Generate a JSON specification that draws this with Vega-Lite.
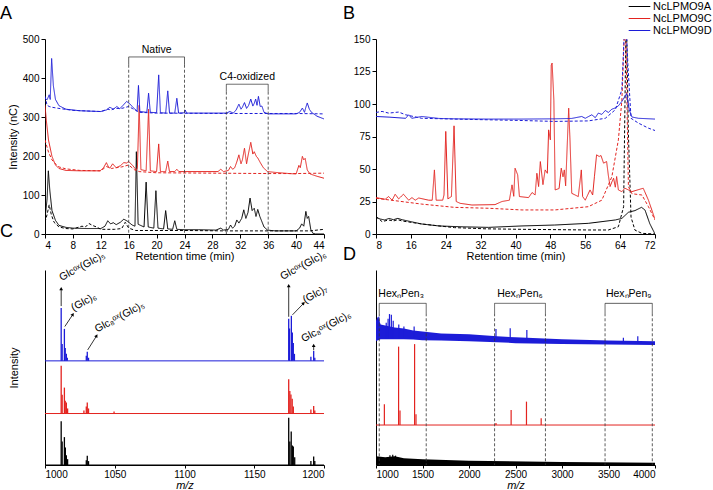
{
"$schema":"https://vega.github.io/schema/vega-lite/v6.json",
"background":"white",
"padding":{"left":0,"top":0,"right":0,"bottom":0},
"columns":2,
"bounds":"flush",
"spacing":{"row":36,"column":52},
"config":{
 "view":{"stroke":null},
 "font":"Liberation Sans",
 "axis":{"grid":false,"domainColor":"#000","tickColor":"#000","labelColor":"#000","titleColor":"#000","labelFontSize":10,"titleFontSize":11,"titleFontWeight":"normal","tickSize":4,"labelPadding":2,"titlePadding":4,"labelOverlap":false,"format":"d"},
 "title":{"fontSize":18,"fontWeight":"normal","anchor":"start","frame":"group","baseline":"alphabetic","color":"#000"},
 "text":{"font":"Liberation Sans","fontSize":10.5,"color":"#000"}
},
"datasets":{
"A":[
{"s":"NcLPMO9A","k":"s","t":4,"v":38},{"s":"NcLPMO9A","k":"s","t":4.3,"v":90},{"s":"NcLPMO9A","k":"s","t":4.48,"v":162},{"s":"NcLPMO9A","k":"s","t":4.7,"v":110},{"s":"NcLPMO9A","k":"s","t":5,"v":60},{"s":"NcLPMO9A","k":"s","t":5.5,"v":35},{"s":"NcLPMO9A","k":"s","t":6,"v":22},{"s":"NcLPMO9A","k":"s","t":7,"v":17},{"s":"NcLPMO9A","k":"s","t":8,"v":15},{"s":"NcLPMO9A","k":"s","t":10,"v":14},{"s":"NcLPMO9A","k":"s","t":12,"v":14},{"s":"NcLPMO9A","k":"s","t":12.6,"v":20},{"s":"NcLPMO9A","k":"s","t":13,"v":34},{"s":"NcLPMO9A","k":"s","t":13.4,"v":26},{"s":"NcLPMO9A","k":"s","t":13.8,"v":29},{"s":"NcLPMO9A","k":"s","t":14.2,"v":24},{"s":"NcLPMO9A","k":"s","t":14.8,"v":30},{"s":"NcLPMO9A","k":"s","t":15.3,"v":38},{"s":"NcLPMO9A","k":"s","t":15.8,"v":33},{"s":"NcLPMO9A","k":"s","t":16.5,"v":23},{"s":"NcLPMO9A","k":"s","t":16.9,"v":20},{"s":"NcLPMO9A","k":"s","t":17.1,"v":211},{"s":"NcLPMO9A","k":"s","t":17.35,"v":25},{"s":"NcLPMO9A","k":"s","t":18.2,"v":18},{"s":"NcLPMO9A","k":"s","t":18.5,"v":133},{"s":"NcLPMO9A","k":"s","t":18.8,"v":18},{"s":"NcLPMO9A","k":"s","t":19.6,"v":15},{"s":"NcLPMO9A","k":"s","t":19.9,"v":111},{"s":"NcLPMO9A","k":"s","t":20.2,"v":15},{"s":"NcLPMO9A","k":"s","t":21,"v":13},{"s":"NcLPMO9A","k":"s","t":21.3,"v":60},{"s":"NcLPMO9A","k":"s","t":21.6,"v":13},{"s":"NcLPMO9A","k":"s","t":22.3,"v":12},{"s":"NcLPMO9A","k":"s","t":22.6,"v":34},{"s":"NcLPMO9A","k":"s","t":22.9,"v":12},{"s":"NcLPMO9A","k":"s","t":24,"v":11},{"s":"NcLPMO9A","k":"s","t":26,"v":11},{"s":"NcLPMO9A","k":"s","t":28.5,"v":10},{"s":"NcLPMO9A","k":"s","t":29.2,"v":15},{"s":"NcLPMO9A","k":"s","t":29.6,"v":10},{"s":"NcLPMO9A","k":"s","t":30.3,"v":12},{"s":"NcLPMO9A","k":"s","t":30.6,"v":23},{"s":"NcLPMO9A","k":"s","t":30.9,"v":15},{"s":"NcLPMO9A","k":"s","t":31.2,"v":20},{"s":"NcLPMO9A","k":"s","t":31.5,"v":36},{"s":"NcLPMO9A","k":"s","t":31.8,"v":28},{"s":"NcLPMO9A","k":"s","t":32.2,"v":40},{"s":"NcLPMO9A","k":"s","t":32.5,"v":62},{"s":"NcLPMO9A","k":"s","t":32.8,"v":40},{"s":"NcLPMO9A","k":"s","t":33.1,"v":55},{"s":"NcLPMO9A","k":"s","t":33.4,"v":92},{"s":"NcLPMO9A","k":"s","t":33.7,"v":60},{"s":"NcLPMO9A","k":"s","t":34,"v":66},{"s":"NcLPMO9A","k":"s","t":34.25,"v":45},{"s":"NcLPMO9A","k":"s","t":34.5,"v":63},{"s":"NcLPMO9A","k":"s","t":34.8,"v":45},{"s":"NcLPMO9A","k":"s","t":35,"v":36},{"s":"NcLPMO9A","k":"s","t":35.4,"v":18},{"s":"NcLPMO9A","k":"s","t":35.9,"v":10},{"s":"NcLPMO9A","k":"s","t":37,"v":8},{"s":"NcLPMO9A","k":"s","t":40,"v":8},{"s":"NcLPMO9A","k":"s","t":40.5,"v":15},{"s":"NcLPMO9A","k":"s","t":40.8,"v":26},{"s":"NcLPMO9A","k":"s","t":41.1,"v":20},{"s":"NcLPMO9A","k":"s","t":41.4,"v":58},{"s":"NcLPMO9A","k":"s","t":41.6,"v":40},{"s":"NcLPMO9A","k":"s","t":41.8,"v":45},{"s":"NcLPMO9A","k":"s","t":42.1,"v":12},{"s":"NcLPMO9A","k":"s","t":42.4,"v":2},{"s":"NcLPMO9A","k":"s","t":42.8,"v":0},{"s":"NcLPMO9A","k":"s","t":44,"v":0},
{"s":"NcLPMO9A","k":"c","t":4,"v":30},{"s":"NcLPMO9A","k":"c","t":4.3,"v":50},{"s":"NcLPMO9A","k":"c","t":4.6,"v":75},{"s":"NcLPMO9A","k":"c","t":4.9,"v":50},{"s":"NcLPMO9A","k":"c","t":5.3,"v":30},{"s":"NcLPMO9A","k":"c","t":6,"v":18},{"s":"NcLPMO9A","k":"c","t":7,"v":14},{"s":"NcLPMO9A","k":"c","t":8,"v":13},{"s":"NcLPMO9A","k":"c","t":9.3,"v":20},{"s":"NcLPMO9A","k":"c","t":9.8,"v":18},{"s":"NcLPMO9A","k":"c","t":10.3,"v":27},{"s":"NcLPMO9A","k":"c","t":10.8,"v":22},{"s":"NcLPMO9A","k":"c","t":11.4,"v":18},{"s":"NcLPMO9A","k":"c","t":12,"v":12},{"s":"NcLPMO9A","k":"c","t":14,"v":12},{"s":"NcLPMO9A","k":"c","t":15,"v":14},{"s":"NcLPMO9A","k":"c","t":15.5,"v":30},{"s":"NcLPMO9A","k":"c","t":16,"v":15},{"s":"NcLPMO9A","k":"c","t":17,"v":9},{"s":"NcLPMO9A","k":"c","t":24,"v":9},{"s":"NcLPMO9A","k":"c","t":30,"v":8},{"s":"NcLPMO9A","k":"c","t":40,"v":8},{"s":"NcLPMO9A","k":"c","t":42,"v":8},{"s":"NcLPMO9A","k":"c","t":43,"v":10},{"s":"NcLPMO9A","k":"c","t":44,"v":12},
{"s":"NcLPMO9C","k":"s","t":4,"v":330},{"s":"NcLPMO9C","k":"s","t":4.2,"v":290},{"s":"NcLPMO9C","k":"s","t":4.5,"v":241},{"s":"NcLPMO9C","k":"s","t":5,"v":199},{"s":"NcLPMO9C","k":"s","t":5.5,"v":177},{"s":"NcLPMO9C","k":"s","t":6,"v":168},{"s":"NcLPMO9C","k":"s","t":7,"v":163},{"s":"NcLPMO9C","k":"s","t":9,"v":162},{"s":"NcLPMO9C","k":"s","t":11.9,"v":162},{"s":"NcLPMO9C","k":"s","t":12.4,"v":170},{"s":"NcLPMO9C","k":"s","t":12.8,"v":183},{"s":"NcLPMO9C","k":"s","t":13.1,"v":172},{"s":"NcLPMO9C","k":"s","t":13.3,"v":169},{"s":"NcLPMO9C","k":"s","t":13.7,"v":180},{"s":"NcLPMO9C","k":"s","t":14.2,"v":170},{"s":"NcLPMO9C","k":"s","t":14.8,"v":175},{"s":"NcLPMO9C","k":"s","t":15.3,"v":183},{"s":"NcLPMO9C","k":"s","t":15.7,"v":182},{"s":"NcLPMO9C","k":"s","t":16,"v":186},{"s":"NcLPMO9C","k":"s","t":16.6,"v":175},{"s":"NcLPMO9C","k":"s","t":17.1,"v":164},{"s":"NcLPMO9C","k":"s","t":17.25,"v":170},{"s":"NcLPMO9C","k":"s","t":17.5,"v":330},{"s":"NcLPMO9C","k":"s","t":17.75,"v":165},{"s":"NcLPMO9C","k":"s","t":18.5,"v":162},{"s":"NcLPMO9C","k":"s","t":18.85,"v":320},{"s":"NcLPMO9C","k":"s","t":19.1,"v":162},{"s":"NcLPMO9C","k":"s","t":20,"v":160},{"s":"NcLPMO9C","k":"s","t":20.3,"v":231},{"s":"NcLPMO9C","k":"s","t":20.55,"v":160},{"s":"NcLPMO9C","k":"s","t":21.3,"v":160},{"s":"NcLPMO9C","k":"s","t":21.6,"v":187},{"s":"NcLPMO9C","k":"s","t":21.85,"v":160},{"s":"NcLPMO9C","k":"s","t":22.6,"v":160},{"s":"NcLPMO9C","k":"s","t":22.9,"v":166},{"s":"NcLPMO9C","k":"s","t":23.2,"v":160},{"s":"NcLPMO9C","k":"s","t":28.8,"v":160},{"s":"NcLPMO9C","k":"s","t":29.2,"v":166},{"s":"NcLPMO9C","k":"s","t":29.6,"v":160},{"s":"NcLPMO9C","k":"s","t":30.3,"v":163},{"s":"NcLPMO9C","k":"s","t":30.6,"v":173},{"s":"NcLPMO9C","k":"s","t":30.9,"v":166},{"s":"NcLPMO9C","k":"s","t":31.2,"v":170},{"s":"NcLPMO9C","k":"s","t":31.5,"v":185},{"s":"NcLPMO9C","k":"s","t":31.8,"v":203},{"s":"NcLPMO9C","k":"s","t":32.1,"v":180},{"s":"NcLPMO9C","k":"s","t":32.3,"v":190},{"s":"NcLPMO9C","k":"s","t":32.6,"v":220},{"s":"NcLPMO9C","k":"s","t":32.9,"v":180},{"s":"NcLPMO9C","k":"s","t":33.1,"v":200},{"s":"NcLPMO9C","k":"s","t":33.5,"v":235},{"s":"NcLPMO9C","k":"s","t":33.8,"v":205},{"s":"NcLPMO9C","k":"s","t":34,"v":211},{"s":"NcLPMO9C","k":"s","t":34.3,"v":199},{"s":"NcLPMO9C","k":"s","t":34.5,"v":195},{"s":"NcLPMO9C","k":"s","t":34.9,"v":182},{"s":"NcLPMO9C","k":"s","t":35.3,"v":170},{"s":"NcLPMO9C","k":"s","t":35.9,"v":160},{"s":"NcLPMO9C","k":"s","t":37,"v":158},{"s":"NcLPMO9C","k":"s","t":39,"v":155},{"s":"NcLPMO9C","k":"s","t":40,"v":154},{"s":"NcLPMO9C","k":"s","t":40.4,"v":176},{"s":"NcLPMO9C","k":"s","t":40.6,"v":170},{"s":"NcLPMO9C","k":"s","t":40.9,"v":199},{"s":"NcLPMO9C","k":"s","t":41.1,"v":190},{"s":"NcLPMO9C","k":"s","t":41.3,"v":194},{"s":"NcLPMO9C","k":"s","t":41.6,"v":164},{"s":"NcLPMO9C","k":"s","t":42,"v":154},{"s":"NcLPMO9C","k":"s","t":43,"v":148},{"s":"NcLPMO9C","k":"s","t":44,"v":143},
{"s":"NcLPMO9C","k":"c","t":4,"v":241},{"s":"NcLPMO9C","k":"c","t":4.5,"v":210},{"s":"NcLPMO9C","k":"c","t":5,"v":190},{"s":"NcLPMO9C","k":"c","t":5.5,"v":180},{"s":"NcLPMO9C","k":"c","t":6,"v":172},{"s":"NcLPMO9C","k":"c","t":7,"v":167},{"s":"NcLPMO9C","k":"c","t":9,"v":163},{"s":"NcLPMO9C","k":"c","t":12,"v":162},{"s":"NcLPMO9C","k":"c","t":12.8,"v":173},{"s":"NcLPMO9C","k":"c","t":13.5,"v":168},{"s":"NcLPMO9C","k":"c","t":15,"v":172},{"s":"NcLPMO9C","k":"c","t":16,"v":177},{"s":"NcLPMO9C","k":"c","t":16.8,"v":165},{"s":"NcLPMO9C","k":"c","t":17.5,"v":160},{"s":"NcLPMO9C","k":"c","t":20,"v":157},{"s":"NcLPMO9C","k":"c","t":28,"v":156},{"s":"NcLPMO9C","k":"c","t":36,"v":155},{"s":"NcLPMO9C","k":"c","t":40,"v":155},{"s":"NcLPMO9C","k":"c","t":44,"v":156},
{"s":"NcLPMO9D","k":"s","t":4,"v":348},{"s":"NcLPMO9D","k":"s","t":4.3,"v":344},{"s":"NcLPMO9D","k":"s","t":4.6,"v":357},{"s":"NcLPMO9D","k":"s","t":4.75,"v":345},{"s":"NcLPMO9D","k":"s","t":4.95,"v":450},{"s":"NcLPMO9D","k":"s","t":5.2,"v":380},{"s":"NcLPMO9D","k":"s","t":5.5,"v":345},{"s":"NcLPMO9D","k":"s","t":6,"v":329},{"s":"NcLPMO9D","k":"s","t":7,"v":320},{"s":"NcLPMO9D","k":"s","t":9,"v":316},{"s":"NcLPMO9D","k":"s","t":12,"v":314},{"s":"NcLPMO9D","k":"s","t":12.8,"v":318},{"s":"NcLPMO9D","k":"s","t":13.3,"v":325},{"s":"NcLPMO9D","k":"s","t":13.8,"v":320},{"s":"NcLPMO9D","k":"s","t":14.3,"v":327},{"s":"NcLPMO9D","k":"s","t":14.7,"v":321},{"s":"NcLPMO9D","k":"s","t":15.2,"v":330},{"s":"NcLPMO9D","k":"s","t":15.7,"v":340},{"s":"NcLPMO9D","k":"s","t":16.2,"v":333},{"s":"NcLPMO9D","k":"s","t":16.5,"v":327},{"s":"NcLPMO9D","k":"s","t":17,"v":318},{"s":"NcLPMO9D","k":"s","t":17.2,"v":315},{"s":"NcLPMO9D","k":"s","t":17.4,"v":381},{"s":"NcLPMO9D","k":"s","t":17.6,"v":314},{"s":"NcLPMO9D","k":"s","t":18.6,"v":312},{"s":"NcLPMO9D","k":"s","t":18.85,"v":361},{"s":"NcLPMO9D","k":"s","t":19.1,"v":312},{"s":"NcLPMO9D","k":"s","t":20,"v":311},{"s":"NcLPMO9D","k":"s","t":20.3,"v":408},{"s":"NcLPMO9D","k":"s","t":20.55,"v":311},{"s":"NcLPMO9D","k":"s","t":21.3,"v":310},{"s":"NcLPMO9D","k":"s","t":21.6,"v":367},{"s":"NcLPMO9D","k":"s","t":21.85,"v":310},{"s":"NcLPMO9D","k":"s","t":22.6,"v":310},{"s":"NcLPMO9D","k":"s","t":22.9,"v":348},{"s":"NcLPMO9D","k":"s","t":23.15,"v":310},{"s":"NcLPMO9D","k":"s","t":24,"v":311},{"s":"NcLPMO9D","k":"s","t":24.1,"v":318},{"s":"NcLPMO9D","k":"s","t":24.3,"v":310},{"s":"NcLPMO9D","k":"s","t":30,"v":310},{"s":"NcLPMO9D","k":"s","t":30.5,"v":314},{"s":"NcLPMO9D","k":"s","t":31,"v":310},{"s":"NcLPMO9D","k":"s","t":31.4,"v":318},{"s":"NcLPMO9D","k":"s","t":31.8,"v":333},{"s":"NcLPMO9D","k":"s","t":32.1,"v":320},{"s":"NcLPMO9D","k":"s","t":32.3,"v":325},{"s":"NcLPMO9D","k":"s","t":32.6,"v":337},{"s":"NcLPMO9D","k":"s","t":32.9,"v":322},{"s":"NcLPMO9D","k":"s","t":33.2,"v":330},{"s":"NcLPMO9D","k":"s","t":33.5,"v":346},{"s":"NcLPMO9D","k":"s","t":33.8,"v":328},{"s":"NcLPMO9D","k":"s","t":34,"v":335},{"s":"NcLPMO9D","k":"s","t":34.2,"v":346},{"s":"NcLPMO9D","k":"s","t":34.4,"v":330},{"s":"NcLPMO9D","k":"s","t":34.6,"v":353},{"s":"NcLPMO9D","k":"s","t":34.85,"v":327},{"s":"NcLPMO9D","k":"s","t":35.1,"v":328},{"s":"NcLPMO9D","k":"s","t":35.4,"v":312},{"s":"NcLPMO9D","k":"s","t":36,"v":308},{"s":"NcLPMO9D","k":"s","t":40,"v":308},{"s":"NcLPMO9D","k":"s","t":40.5,"v":312},{"s":"NcLPMO9D","k":"s","t":40.9,"v":323},{"s":"NcLPMO9D","k":"s","t":41.2,"v":312},{"s":"NcLPMO9D","k":"s","t":41.4,"v":325},{"s":"NcLPMO9D","k":"s","t":41.6,"v":336},{"s":"NcLPMO9D","k":"s","t":41.9,"v":320},{"s":"NcLPMO9D","k":"s","t":42.2,"v":312},{"s":"NcLPMO9D","k":"s","t":43,"v":302},{"s":"NcLPMO9D","k":"s","t":44,"v":295},
{"s":"NcLPMO9D","k":"c","t":4,"v":353},{"s":"NcLPMO9D","k":"c","t":4.3,"v":330},{"s":"NcLPMO9D","k":"c","t":4.6,"v":327},{"s":"NcLPMO9D","k":"c","t":5,"v":325},{"s":"NcLPMO9D","k":"c","t":6,"v":322},{"s":"NcLPMO9D","k":"c","t":8,"v":317},{"s":"NcLPMO9D","k":"c","t":12,"v":314},{"s":"NcLPMO9D","k":"c","t":13,"v":320},{"s":"NcLPMO9D","k":"c","t":13.5,"v":318},{"s":"NcLPMO9D","k":"c","t":14,"v":322},{"s":"NcLPMO9D","k":"c","t":15,"v":322},{"s":"NcLPMO9D","k":"c","t":16,"v":327},{"s":"NcLPMO9D","k":"c","t":16.5,"v":322},{"s":"NcLPMO9D","k":"c","t":17.5,"v":312},{"s":"NcLPMO9D","k":"c","t":20,"v":310},{"s":"NcLPMO9D","k":"c","t":30,"v":309},{"s":"NcLPMO9D","k":"c","t":40,"v":309},{"s":"NcLPMO9D","k":"c","t":44,"v":308}
],
"Abr":[
{"x":16,"x2":24,"y":454,"y2":454,"k":"s"},{"x":16,"x2":16,"y":454,"y2":434,"k":"s"},{"x":24,"x2":24,"y":454,"y2":434,"k":"s"},{"x":16,"x2":16,"y":434,"y2":0,"k":"c"},{"x":24,"x2":24,"y":434,"y2":0,"k":"c"},
{"x":30,"x2":36,"y":384,"y2":384,"k":"s"},{"x":30,"x2":30,"y":384,"y2":365,"k":"s"},{"x":36,"x2":36,"y":384,"y2":365,"k":"s"},{"x":30,"x2":30,"y":365,"y2":0,"k":"c"},{"x":36,"x2":36,"y":365,"y2":0,"k":"c"}
],
"Atx":[{"x":20,"y":459,"label":"Native"},{"x":33,"y":390,"label":"C4-oxidized"}],
"B":[
{"s":"NcLPMO9A","k":"s","t":8,"v":12.8},{"s":"NcLPMO9A","k":"s","t":9,"v":11.5},{"s":"NcLPMO9A","k":"s","t":10,"v":10.8},{"s":"NcLPMO9A","k":"s","t":11,"v":12},{"s":"NcLPMO9A","k":"s","t":12,"v":11},{"s":"NcLPMO9A","k":"s","t":13,"v":12},{"s":"NcLPMO9A","k":"s","t":14,"v":11},{"s":"NcLPMO9A","k":"s","t":16,"v":9.5},{"s":"NcLPMO9A","k":"s","t":18.5,"v":7.7},{"s":"NcLPMO9A","k":"s","t":22.4,"v":6.2},{"s":"NcLPMO9A","k":"s","t":28,"v":5.5},{"s":"NcLPMO9A","k":"s","t":33.8,"v":5.1},{"s":"NcLPMO9A","k":"s","t":41.5,"v":6.2},{"s":"NcLPMO9A","k":"s","t":49,"v":6.9},{"s":"NcLPMO9A","k":"s","t":56.7,"v":8.2},{"s":"NcLPMO9A","k":"s","t":62.9,"v":10.8},{"s":"NcLPMO9A","k":"s","t":64.4,"v":12},{"s":"NcLPMO9A","k":"s","t":65.9,"v":16.7},{"s":"NcLPMO9A","k":"s","t":67.4,"v":18},{"s":"NcLPMO9A","k":"s","t":68.9,"v":20.5},{"s":"NcLPMO9A","k":"s","t":69.7,"v":18.5},{"s":"NcLPMO9A","k":"s","t":70.8,"v":8},{"s":"NcLPMO9A","k":"s","t":72,"v":0},
{"s":"NcLPMO9A","k":"c","t":8,"v":13.4},{"s":"NcLPMO9A","k":"c","t":9.4,"v":9.5},{"s":"NcLPMO9A","k":"c","t":10.9,"v":10.8},{"s":"NcLPMO9A","k":"c","t":12,"v":10},{"s":"NcLPMO9A","k":"c","t":13,"v":11},{"s":"NcLPMO9A","k":"c","t":14,"v":10},{"s":"NcLPMO9A","k":"c","t":18.5,"v":7.7},{"s":"NcLPMO9A","k":"c","t":26,"v":4.9},{"s":"NcLPMO9A","k":"c","t":33,"v":4},{"s":"NcLPMO9A","k":"c","t":41.5,"v":3.6},{"s":"NcLPMO9A","k":"c","t":56.7,"v":3.1},{"s":"NcLPMO9A","k":"c","t":61.3,"v":3.1},{"s":"NcLPMO9A","k":"c","t":63.6,"v":5.6},{"s":"NcLPMO9A","k":"c","t":64.8,"v":21},{"s":"NcLPMO9A","k":"c","t":65.4,"v":175},{"s":"NcLPMO9A","k":"c","t":65.9,"v":77},{"s":"NcLPMO9A","k":"c","t":66.5,"v":13},{"s":"NcLPMO9A","k":"c","t":67.4,"v":3},{"s":"NcLPMO9A","k":"c","t":69,"v":0.5},{"s":"NcLPMO9A","k":"c","t":72,"v":0},
{"s":"NcLPMO9C","k":"s","t":8,"v":28},{"s":"NcLPMO9C","k":"s","t":10.1,"v":26.7},{"s":"NcLPMO9C","k":"s","t":10.9,"v":28.8},{"s":"NcLPMO9C","k":"s","t":11.7,"v":26},{"s":"NcLPMO9C","k":"s","t":12.4,"v":30.6},{"s":"NcLPMO9C","k":"s","t":13.2,"v":27},{"s":"NcLPMO9C","k":"s","t":14.3,"v":30.6},{"s":"NcLPMO9C","k":"s","t":15.5,"v":26},{"s":"NcLPMO9C","k":"s","t":16.25,"v":28},{"s":"NcLPMO9C","k":"s","t":17,"v":26},{"s":"NcLPMO9C","k":"s","t":17.8,"v":27.7},{"s":"NcLPMO9C","k":"s","t":20.1,"v":26},{"s":"NcLPMO9C","k":"s","t":20.9,"v":26},{"s":"NcLPMO9C","k":"s","t":21.4,"v":49.3},{"s":"NcLPMO9C","k":"s","t":21.8,"v":26},{"s":"NcLPMO9C","k":"s","t":23.3,"v":26},{"s":"NcLPMO9C","k":"s","t":23.6,"v":30},{"s":"NcLPMO9C","k":"s","t":24,"v":78.9},{"s":"NcLPMO9C","k":"s","t":24.5,"v":27},{"s":"NcLPMO9C","k":"s","t":25.3,"v":28.8},{"s":"NcLPMO9C","k":"s","t":25.9,"v":83.2},{"s":"NcLPMO9C","k":"s","t":26.4,"v":25},{"s":"NcLPMO9C","k":"s","t":27.3,"v":23.6},{"s":"NcLPMO9C","k":"s","t":30,"v":22.3},{"s":"NcLPMO9C","k":"s","t":35.3,"v":22.6},{"s":"NcLPMO9C","k":"s","t":36.9,"v":25},{"s":"NcLPMO9C","k":"s","t":38.6,"v":26},{"s":"NcLPMO9C","k":"s","t":39.2,"v":37.8},{"s":"NcLPMO9C","k":"s","t":39.6,"v":29},{"s":"NcLPMO9C","k":"s","t":39.9,"v":50.6},{"s":"NcLPMO9C","k":"s","t":40.5,"v":45.5},{"s":"NcLPMO9C","k":"s","t":40.9,"v":28.8},{"s":"NcLPMO9C","k":"s","t":43,"v":28},{"s":"NcLPMO9C","k":"s","t":43.8,"v":31.9},{"s":"NcLPMO9C","k":"s","t":44.5,"v":30},{"s":"NcLPMO9C","k":"s","t":44.9,"v":46.7},{"s":"NcLPMO9C","k":"s","t":45.3,"v":36.5},{"s":"NcLPMO9C","k":"s","t":45.7,"v":55.7},{"s":"NcLPMO9C","k":"s","t":46.3,"v":38},{"s":"NcLPMO9C","k":"s","t":46.8,"v":49.3},{"s":"NcLPMO9C","k":"s","t":47.3,"v":46.7},{"s":"NcLPMO9C","k":"s","t":47.6,"v":80.1},{"s":"NcLPMO9C","k":"s","t":48,"v":72.4},{"s":"NcLPMO9C","k":"s","t":48.2,"v":130},{"s":"NcLPMO9C","k":"s","t":48.4,"v":131.5},{"s":"NcLPMO9C","k":"s","t":48.8,"v":103},{"s":"NcLPMO9C","k":"s","t":49.1,"v":33.9},{"s":"NcLPMO9C","k":"s","t":50,"v":35},{"s":"NcLPMO9C","k":"s","t":50.5,"v":50.6},{"s":"NcLPMO9C","k":"s","t":50.9,"v":44},{"s":"NcLPMO9C","k":"s","t":51.2,"v":49.3},{"s":"NcLPMO9C","k":"s","t":51.5,"v":37},{"s":"NcLPMO9C","k":"s","t":52.2,"v":96.8},{"s":"NcLPMO9C","k":"s","t":52.5,"v":72.4},{"s":"NcLPMO9C","k":"s","t":52.9,"v":31.3},{"s":"NcLPMO9C","k":"s","t":54.4,"v":28.8},{"s":"NcLPMO9C","k":"s","t":55.1,"v":49.3},{"s":"NcLPMO9C","k":"s","t":55.4,"v":28.8},{"s":"NcLPMO9C","k":"s","t":56,"v":26},{"s":"NcLPMO9C","k":"s","t":57.1,"v":33.9},{"s":"NcLPMO9C","k":"s","t":57.7,"v":30},{"s":"NcLPMO9C","k":"s","t":58.1,"v":44},{"s":"NcLPMO9C","k":"s","t":58.6,"v":60.9},{"s":"NcLPMO9C","k":"s","t":59.2,"v":59.6},{"s":"NcLPMO9C","k":"s","t":59.6,"v":60.4},{"s":"NcLPMO9C","k":"s","t":60.2,"v":54.5},{"s":"NcLPMO9C","k":"s","t":60.9,"v":55.7},{"s":"NcLPMO9C","k":"s","t":61.3,"v":45},{"s":"NcLPMO9C","k":"s","t":61.7,"v":36.5},{"s":"NcLPMO9C","k":"s","t":62.1,"v":40},{"s":"NcLPMO9C","k":"s","t":62.5,"v":42.9},{"s":"NcLPMO9C","k":"s","t":62.9,"v":36},{"s":"NcLPMO9C","k":"s","t":63.2,"v":44.2},{"s":"NcLPMO9C","k":"s","t":63.6,"v":33.9},{"s":"NcLPMO9C","k":"s","t":64.4,"v":32.6},{"s":"NcLPMO9C","k":"s","t":65.1,"v":35.2},{"s":"NcLPMO9C","k":"s","t":66.7,"v":32.6},{"s":"NcLPMO9C","k":"s","t":69.3,"v":35.2},{"s":"NcLPMO9C","k":"s","t":70.5,"v":26},{"s":"NcLPMO9C","k":"s","t":72,"v":11.3},
{"s":"NcLPMO9C","k":"c","t":8,"v":27.5},{"s":"NcLPMO9C","k":"c","t":18.5,"v":23},{"s":"NcLPMO9C","k":"c","t":26,"v":20.5},{"s":"NcLPMO9C","k":"c","t":33.8,"v":19.8},{"s":"NcLPMO9C","k":"c","t":41.5,"v":18.5},{"s":"NcLPMO9C","k":"c","t":49,"v":18.5},{"s":"NcLPMO9C","k":"c","t":56.7,"v":21},{"s":"NcLPMO9C","k":"c","t":59.8,"v":26},{"s":"NcLPMO9C","k":"c","t":62.1,"v":44},{"s":"NcLPMO9C","k":"c","t":63.6,"v":72.4},{"s":"NcLPMO9C","k":"c","t":64.4,"v":103},{"s":"NcLPMO9C","k":"c","t":65.2,"v":175},{"s":"NcLPMO9C","k":"c","t":65.9,"v":36.5},{"s":"NcLPMO9C","k":"c","t":66.7,"v":31},{"s":"NcLPMO9C","k":"c","t":69,"v":30},{"s":"NcLPMO9C","k":"c","t":70.5,"v":21},{"s":"NcLPMO9C","k":"c","t":72,"v":10.8},
{"s":"NcLPMO9D","k":"s","t":8,"v":90.4},{"s":"NcLPMO9D","k":"s","t":11,"v":89.9},{"s":"NcLPMO9D","k":"s","t":14.8,"v":89},{"s":"NcLPMO9D","k":"s","t":15.5,"v":91.7},{"s":"NcLPMO9D","k":"s","t":16.2,"v":89},{"s":"NcLPMO9D","k":"s","t":18.5,"v":90.4},{"s":"NcLPMO9D","k":"s","t":22.4,"v":88.9},{"s":"NcLPMO9D","k":"s","t":26.2,"v":88.6},{"s":"NcLPMO9D","k":"s","t":33.8,"v":88.4},{"s":"NcLPMO9D","k":"s","t":41.5,"v":88.4},{"s":"NcLPMO9D","k":"s","t":49,"v":88.6},{"s":"NcLPMO9D","k":"s","t":52.9,"v":88.9},{"s":"NcLPMO9D","k":"s","t":55.2,"v":90.4},{"s":"NcLPMO9D","k":"s","t":56,"v":89},{"s":"NcLPMO9D","k":"s","t":57.5,"v":91.7},{"s":"NcLPMO9D","k":"s","t":58.3,"v":89.5},{"s":"NcLPMO9D","k":"s","t":59,"v":93},{"s":"NcLPMO9D","k":"s","t":59.8,"v":92},{"s":"NcLPMO9D","k":"s","t":60.6,"v":95},{"s":"NcLPMO9D","k":"s","t":61.3,"v":93.5},{"s":"NcLPMO9D","k":"s","t":62.1,"v":96},{"s":"NcLPMO9D","k":"s","t":62.9,"v":97},{"s":"NcLPMO9D","k":"s","t":63.6,"v":98.6},{"s":"NcLPMO9D","k":"s","t":64.4,"v":102},{"s":"NcLPMO9D","k":"s","t":65.5,"v":108},{"s":"NcLPMO9D","k":"s","t":66.1,"v":95.6},{"s":"NcLPMO9D","k":"s","t":66.7,"v":90},{"s":"NcLPMO9D","k":"s","t":68.2,"v":89},{"s":"NcLPMO9D","k":"s","t":72,"v":88.4},
{"s":"NcLPMO9D","k":"c","t":8,"v":93.5},{"s":"NcLPMO9D","k":"c","t":9.4,"v":94.3},{"s":"NcLPMO9D","k":"c","t":10.9,"v":93},{"s":"NcLPMO9D","k":"c","t":13.2,"v":93.8},{"s":"NcLPMO9D","k":"c","t":14.8,"v":91.7},{"s":"NcLPMO9D","k":"c","t":18.5,"v":89},{"s":"NcLPMO9D","k":"c","t":26,"v":88.4},{"s":"NcLPMO9D","k":"c","t":41.5,"v":87.3},{"s":"NcLPMO9D","k":"c","t":49,"v":86.6},{"s":"NcLPMO9D","k":"c","t":56.7,"v":87},{"s":"NcLPMO9D","k":"c","t":60.6,"v":89},{"s":"NcLPMO9D","k":"c","t":62.9,"v":95.6},{"s":"NcLPMO9D","k":"c","t":64.4,"v":111},{"s":"NcLPMO9D","k":"c","t":65.2,"v":175},{"s":"NcLPMO9D","k":"c","t":65.8,"v":129},{"s":"NcLPMO9D","k":"c","t":66.5,"v":89},{"s":"NcLPMO9D","k":"c","t":68.2,"v":85.3},{"s":"NcLPMO9D","k":"c","t":70.5,"v":81.4},{"s":"NcLPMO9D","k":"c","t":72,"v":79.6}
],
"Cb":[{"s":"NcLPMO9A","y":0},{"s":"NcLPMO9C","y":26.4},{"s":"NcLPMO9D","y":53.4}],
"C":[
{"s":"NcLPMO9D","m":1011.6,"b":53.4,"h":80.5},{"s":"NcLPMO9D","m":1012.3,"b":53.4,"h":62},{"s":"NcLPMO9D","m":1013.9,"b":53.4,"h":69.8},{"s":"NcLPMO9D","m":1014.5,"b":53.4,"h":60},{"s":"NcLPMO9D","m":1015.3,"b":53.4,"h":57},{"s":"NcLPMO9D","m":1016,"b":53.4,"h":55},{"s":"NcLPMO9D","m":1029.6,"b":53.4,"h":56},{"s":"NcLPMO9D","m":1030.3,"b":53.4,"h":58.1},{"s":"NcLPMO9D","m":1031.2,"b":53.4,"h":55},{"s":"NcLPMO9D","m":1174.7,"b":53.4,"h":75},{"s":"NcLPMO9D","m":1175.3,"b":53.4,"h":70},{"s":"NcLPMO9D","m":1176.6,"b":53.4,"h":76.5},{"s":"NcLPMO9D","m":1177.3,"b":53.4,"h":68},{"s":"NcLPMO9D","m":1178,"b":53.4,"h":62.6},{"s":"NcLPMO9D","m":1178.8,"b":53.4,"h":57},{"s":"NcLPMO9D","m":1190.6,"b":53.4,"h":55.5},{"s":"NcLPMO9D","m":1192.6,"b":53.4,"h":58.5},{"s":"NcLPMO9D","m":1193.4,"b":53.4,"h":55},
{"s":"NcLPMO9C","m":1011.6,"b":26.4,"h":50.9},{"s":"NcLPMO9C","m":1012.3,"b":26.4,"h":36},{"s":"NcLPMO9C","m":1013.9,"b":26.4,"h":39.7},{"s":"NcLPMO9C","m":1014.5,"b":26.4,"h":33},{"s":"NcLPMO9C","m":1015.3,"b":26.4,"h":32},{"s":"NcLPMO9C","m":1016.2,"b":26.4,"h":29},{"s":"NcLPMO9C","m":1027.9,"b":26.4,"h":28},{"s":"NcLPMO9C","m":1029.6,"b":26.4,"h":30},{"s":"NcLPMO9C","m":1030.3,"b":26.4,"h":32},{"s":"NcLPMO9C","m":1031.2,"b":26.4,"h":29},{"s":"NcLPMO9C","m":1049.5,"b":26.4,"h":27.5},{"s":"NcLPMO9C","m":1174.7,"b":26.4,"h":44},{"s":"NcLPMO9C","m":1175.5,"b":26.4,"h":38},{"s":"NcLPMO9C","m":1176.3,"b":26.4,"h":36.2},{"s":"NcLPMO9C","m":1177.2,"b":26.4,"h":34},{"s":"NcLPMO9C","m":1178,"b":26.4,"h":30},{"s":"NcLPMO9C","m":1190.6,"b":26.4,"h":28.5},{"s":"NcLPMO9C","m":1192.6,"b":26.4,"h":30.2},{"s":"NcLPMO9C","m":1193.4,"b":26.4,"h":28},
{"s":"NcLPMO9A","m":1011.6,"b":0,"h":22.4},{"s":"NcLPMO9A","m":1012.3,"b":0,"h":12},{"s":"NcLPMO9A","m":1013.9,"b":0,"h":14.3},{"s":"NcLPMO9A","m":1014.6,"b":0,"h":9},{"s":"NcLPMO9A","m":1015.3,"b":0,"h":5},{"s":"NcLPMO9A","m":1016.2,"b":0,"h":3},{"s":"NcLPMO9A","m":1029.6,"b":0,"h":2.5},{"s":"NcLPMO9A","m":1030.3,"b":0,"h":4.7},{"s":"NcLPMO9A","m":1031.2,"b":0,"h":2},{"s":"NcLPMO9A","m":1174.7,"b":0,"h":24.2},{"s":"NcLPMO9A","m":1175.5,"b":0,"h":12},{"s":"NcLPMO9A","m":1176.5,"b":0,"h":17.2},{"s":"NcLPMO9A","m":1177.3,"b":0,"h":10},{"s":"NcLPMO9A","m":1178,"b":0,"h":9.5},{"s":"NcLPMO9A","m":1179,"b":0,"h":4},{"s":"NcLPMO9A","m":1190.6,"b":0,"h":2},{"s":"NcLPMO9A","m":1192.6,"b":0,"h":4.3},{"s":"NcLPMO9A","m":1193.4,"b":0,"h":2}
],
"Car":[
{"x":1011.6,"y":81.5,"x2":1011.6,"y2":90},{"x":1014.2,"y":71,"x2":1019.6,"y2":76.8},{"x":1030.6,"y":59,"x2":1036.6,"y2":65.8},{"x":1174.7,"y":76,"x2":1174.7,"y2":91.5},{"x":1177.4,"y":77,"x2":1185,"y2":82.6},{"x":1192.6,"y":58.8,"x2":1192.6,"y2":60.5}
],
"Cah":[
{"x":1011.6,"y":90.5,"a":0},{"x":1020,"y":77.3,"a":32},{"x":1037,"y":66.3,"a":31},{"x":1174.7,"y":92,"a":0},{"x":1185.4,"y":83,"a":45},{"x":1192.6,"y":61.3,"a":0}
],
"Ctx":[
{"x":1012.5,"y":93.5,"label":"Glcᵒˣ(Glc)₅"},{"x":1021,"y":78,"label":"(Glc)₆"},{"x":1038,"y":67,"label":"Glc₈ᵒˣ(Glc)₅"},{"x":1171,"y":94,"label":"Glcᵒˣ(Glc)₆"},{"x":1187,"y":82,"label":"(Glc)₇"},{"x":1186,"y":62,"label":"Glc₈ᵒˣ(Glc)₆"}
],
"Dband":[
{"s":"NcLPMO9D","x":1000,"lo":63.5,"hi":74},{"s":"NcLPMO9D","x":1020,"lo":64,"hi":76},{"s":"NcLPMO9D","x":1050,"lo":64.5,"hi":72},{"s":"NcLPMO9D","x":1100,"lo":64.5,"hi":71.5},{"s":"NcLPMO9D","x":1200,"lo":64.5,"hi":70.5},{"s":"NcLPMO9D","x":1300,"lo":64.5,"hi":70},{"s":"NcLPMO9D","x":1400,"lo":64.3,"hi":69},{"s":"NcLPMO9D","x":1500,"lo":64,"hi":68.5},{"s":"NcLPMO9D","x":1700,"lo":63.8,"hi":67.5},{"s":"NcLPMO9D","x":2000,"lo":63.5,"hi":67},{"s":"NcLPMO9D","x":2300,"lo":63,"hi":66},{"s":"NcLPMO9D","x":2500,"lo":62.5,"hi":65.5},{"s":"NcLPMO9D","x":3000,"lo":62,"hi":64.5},{"s":"NcLPMO9D","x":3500,"lo":61.8,"hi":63.8},{"s":"NcLPMO9D","x":4000,"lo":61.5,"hi":63.5},
{"s":"NcLPMO9A","x":1000,"lo":0,"hi":4.5},{"s":"NcLPMO9A","x":1100,"lo":0,"hi":4},{"s":"NcLPMO9A","x":1200,"lo":0,"hi":4.5},{"s":"NcLPMO9A","x":1300,"lo":0,"hi":3.5},{"s":"NcLPMO9A","x":1500,"lo":0,"hi":3},{"s":"NcLPMO9A","x":2000,"lo":0,"hi":2.2},{"s":"NcLPMO9A","x":3000,"lo":0,"hi":1.6},{"s":"NcLPMO9A","x":4000,"lo":0,"hi":1.2}
],
"Dbase":[{"s":"NcLPMO9C","y":20.5}],
"Dpk":[
{"s":"NcLPMO9D","m":1030,"b":65,"h":76},{"s":"NcLPMO9D","m":1110,"b":65,"h":73},{"s":"NcLPMO9D","m":1130,"b":65,"h":75},{"s":"NcLPMO9D","m":1145,"b":65,"h":77.4},{"s":"NcLPMO9D","m":1165,"b":65,"h":77},{"s":"NcLPMO9D","m":1185,"b":65,"h":74},{"s":"NcLPMO9D","m":1245,"b":65,"h":72},{"s":"NcLPMO9D","m":1300,"b":65,"h":71},{"s":"NcLPMO9D","m":1410,"b":65,"h":71},{"s":"NcLPMO9D","m":2290,"b":64,"h":69.8},{"s":"NcLPMO9D","m":2443,"b":64,"h":70.1},{"s":"NcLPMO9D","m":2622,"b":63.5,"h":69.2},{"s":"NcLPMO9D","m":3660,"b":62,"h":65.3},{"s":"NcLPMO9D","m":3815,"b":62,"h":66},
{"s":"NcLPMO9C","m":1090,"b":20.5,"h":31.1},{"s":"NcLPMO9C","m":1243,"b":20.5,"h":60.7},{"s":"NcLPMO9C","m":1258,"b":20.5,"h":28},{"s":"NcLPMO9C","m":1415,"b":20.5,"h":62},{"s":"NcLPMO9C","m":1430,"b":20.5,"h":26},{"s":"NcLPMO9C","m":2290,"b":20.5,"h":21.5},{"s":"NcLPMO9C","m":2453,"b":20.5,"h":28.2},{"s":"NcLPMO9C","m":2618,"b":20.5,"h":32.5},{"s":"NcLPMO9C","m":2776,"b":20.5,"h":24},
{"s":"NcLPMO9A","m":1150,"b":0,"h":5},{"s":"NcLPMO9A","m":1180,"b":0,"h":5.2},{"s":"NcLPMO9A","m":1210,"b":0,"h":4.8}
],
"Dbr":[
{"x":1035,"x2":1540,"y":82.9,"y2":82.9,"k":"s"},{"x":1035,"x2":1035,"y":82.9,"y2":77.8,"k":"s"},{"x":1540,"x2":1540,"y":82.9,"y2":77.8,"k":"s"},{"x":1035,"x2":1035,"y":77.8,"y2":0,"k":"c"},{"x":1540,"x2":1540,"y":77.8,"y2":0,"k":"c"},
{"x":2275,"x2":2822,"y":82.9,"y2":82.9,"k":"s"},{"x":2275,"x2":2275,"y":82.9,"y2":77.8,"k":"s"},{"x":2822,"x2":2822,"y":82.9,"y2":77.8,"k":"s"},{"x":2275,"x2":2275,"y":77.8,"y2":0,"k":"c"},{"x":2822,"x2":2822,"y":77.8,"y2":0,"k":"c"},
{"x":3463,"x2":3971,"y":82.9,"y2":82.9,"k":"s"},{"x":3463,"x2":3463,"y":82.9,"y2":77.8,"k":"s"},{"x":3971,"x2":3971,"y":82.9,"y2":77.8,"k":"s"},{"x":3463,"x2":3463,"y":77.8,"y2":0,"k":"c"},{"x":3971,"x2":3971,"y":77.8,"y2":0,"k":"c"}
],
"Dtx":[{"x":1270,"y":85,"label":"HexₙPen₃"},{"x":2548,"y":85,"label":"HexₙPen₆"},{"x":3717,"y":85,"label":"HexₙPen₉"}]
},
"concat":[
{
 "width":279,"height":195,
 "title":{"text":"A","dx":-45,"offset":11},
 "layer":[
  {"data":{"name":"A"},"mark":{"type":"line","strokeWidth":1,"clip":true},
   "encoding":{
    "x":{"field":"t","type":"quantitative","scale":{"domain":[4,44],"nice":false,"zero":false},"axis":{"title":"Retention time (min)","values":[4,8,12,16,20,24,28,32,36,40,44],"labelOverlap":false,"titlePadding":0}},
    "y":{"field":"v","type":"quantitative","scale":{"domain":[0,500],"nice":false},"axis":{"title":"Intensity (nC)","values":[0,100,200,300,400,500],"labelOverlap":false}},
    "color":{"field":"s","type":"nominal","scale":{"domain":["NcLPMO9A","NcLPMO9C","NcLPMO9D"],"range":["#000000","#e3231f","#1c1cd8"]},"legend":{"title":null,"orient":"none","legendX":588,"legendY":-39,"symbolType":"M-1.8,0H1.8","symbolSize":144,"symbolStrokeWidth":1,"labelFontSize":11,"labelOffset":7,"rowPadding":0,"labelFont":"Liberation Sans"}},
    "strokeDash":{"field":"k","type":"nominal","scale":{"domain":["s","c"],"range":[[1,0],[3,2]]},"legend":null}
   }},
  {"data":{"name":"Abr"},"mark":{"type":"rule","color":"#333","strokeWidth":0.8},
   "encoding":{"x":{"field":"x","type":"quantitative","axis":{"title":"Retention time (min)","values":[4,8,12,16,20,24,28,32,36,40,44],"labelOverlap":false,"titlePadding":0}},"x2":{"field":"x2"},"y":{"field":"y","type":"quantitative","axis":{"title":"Intensity (nC)","values":[0,100,200,300,400,500],"labelOverlap":false}},"y2":{"field":"y2"},"strokeDash":{"field":"k","type":"nominal","legend":null}}},
  {"data":{"name":"Atx"},"mark":{"type":"text","baseline":"bottom","align":"center"},
   "encoding":{"x":{"field":"x","type":"quantitative","axis":{"title":"Retention time (min)","values":[4,8,12,16,20,24,28,32,36,40,44],"labelOverlap":false,"titlePadding":0}},"y":{"field":"y","type":"quantitative","axis":{"title":"Intensity (nC)","values":[0,100,200,300,400,500],"labelOverlap":false}},"text":{"field":"label"}}}
 ]
},
{
 "width":279,"height":195,
 "title":{"text":"B","dx":-33,"offset":11},
 "layer":[
  {"data":{"name":"B"},"mark":{"type":"line","strokeWidth":1,"clip":true},
   "encoding":{
    "x":{"field":"t","type":"quantitative","scale":{"domain":[8,72],"nice":false,"zero":false},"axis":{"title":"Retention time (min)","values":[8,16,24,32,40,48,56,64,72],"labelOverlap":false,"titlePadding":0}},
    "y":{"field":"v","type":"quantitative","scale":{"domain":[0,150],"nice":false},"axis":{"title":null,"values":[0,25,50,75,100,125,150],"labelOverlap":false}},
    "color":{"field":"s","type":"nominal","legend":{"title":null,"orient":"none","legendX":588,"legendY":-39,"symbolType":"M-1.8,0H1.8","symbolSize":144,"symbolStrokeWidth":1,"labelFontSize":11,"labelOffset":7,"rowPadding":0,"labelFont":"Liberation Sans"}},
    "strokeDash":{"field":"k","type":"nominal","scale":{"domain":["s","c"],"range":[[1,0],[3,2]]},"legend":null}
   }}
 ]
},
{
 "width":279,"height":195,
 "title":{"text":"C","dx":-45,"offset":8},
 "layer":[
  {"data":{"name":"Cb"},"mark":{"type":"rule","strokeWidth":1},
   "encoding":{"x":{"datum":1000,"type":"quantitative","scale":{"domain":[1000,1200],"nice":false,"zero":false},"axis":{"title":"m/z","titleFontStyle":"italic","values":[1000,1050,1100,1150,1200],"tickSize":3,"labelPadding":1,"titlePadding":0,"labelOverlap":false}},"x2":{"datum":1200},"y":{"field":"y","type":"quantitative","scale":{"domain":[0,100],"nice":false},"axis":{"title":"Intensity","labels":false,"ticks":false,"titlePadding":26}},"color":{"field":"s","type":"nominal","legend":null}}},
  {"data":{"name":"C"},"mark":{"type":"rule","strokeWidth":1.3},
   "encoding":{"x":{"field":"m","type":"quantitative"},"y":{"field":"b","type":"quantitative"},"y2":{"field":"h"},"color":{"field":"s","type":"nominal","legend":null}}},
  {"data":{"name":"Car"},"mark":{"type":"rule","color":"#000","strokeWidth":0.8},
   "encoding":{"x":{"field":"x","type":"quantitative"},"x2":{"field":"x2"},"y":{"field":"y","type":"quantitative"},"y2":{"field":"y2"}}},
  {"data":{"name":"Cah"},"mark":{"type":"point","shape":"triangle-up","filled":true,"color":"#000","size":14,"opacity":1},
   "encoding":{"x":{"field":"x","type":"quantitative"},"y":{"field":"y","type":"quantitative"},"angle":{"field":"a","type":"quantitative","scale":{"domain":[0,360],"range":[0,360]}}}},
  {"data":{"name":"Ctx"},"mark":{"type":"text","align":"left","baseline":"bottom","angle":332,"fontSize":10.5},
   "encoding":{"x":{"field":"x","type":"quantitative"},"y":{"field":"y","type":"quantitative"},"text":{"field":"label"}}}
 ]
},
{
 "width":279,"height":195,
 "title":{"text":"D","dx":-33,"offset":6},
 "layer":[
  {"data":{"name":"Dband"},"mark":{"type":"area","opacity":1},
   "encoding":{"x":{"field":"x","type":"quantitative","scale":{"domain":[1000,4000],"nice":false,"zero":false},"axis":{"title":"m/z","titleFontStyle":"italic","values":[1000,1500,2000,2500,3000,3500,4000],"tickSize":3,"labelPadding":1,"titlePadding":0,"labelOverlap":false}},"y":{"field":"lo","type":"quantitative","scale":{"domain":[0,100],"nice":false},"axis":{"title":null,"labels":false,"ticks":false}},"y2":{"field":"hi"},"color":{"field":"s","type":"nominal","legend":null}}},
  {"data":{"name":"Dbase"},"mark":{"type":"rule","strokeWidth":1},
   "encoding":{"x":{"datum":1000,"type":"quantitative"},"x2":{"datum":4000},"y":{"field":"y","type":"quantitative"},"color":{"field":"s","type":"nominal","legend":null}}},
  {"data":{"name":"Dpk"},"mark":{"type":"rule","strokeWidth":1.2},
   "encoding":{"x":{"field":"m","type":"quantitative"},"y":{"field":"b","type":"quantitative"},"y2":{"field":"h"},"color":{"field":"s","type":"nominal","legend":null}}},
  {"data":{"name":"Dbr"},"mark":{"type":"rule","color":"#333","strokeWidth":0.8},
   "encoding":{"x":{"field":"x","type":"quantitative"},"x2":{"field":"x2"},"y":{"field":"y","type":"quantitative"},"y2":{"field":"y2"},"strokeDash":{"field":"k","type":"nominal","scale":{"domain":["s","c"],"range":[[1,0],[2,2]]},"legend":null}}},
  {"data":{"name":"Dtx"},"mark":{"type":"text","baseline":"bottom","align":"center"},
   "encoding":{"x":{"field":"x","type":"quantitative"},"y":{"field":"y","type":"quantitative"},"text":{"field":"label"}}}
 ]
}
]
}
